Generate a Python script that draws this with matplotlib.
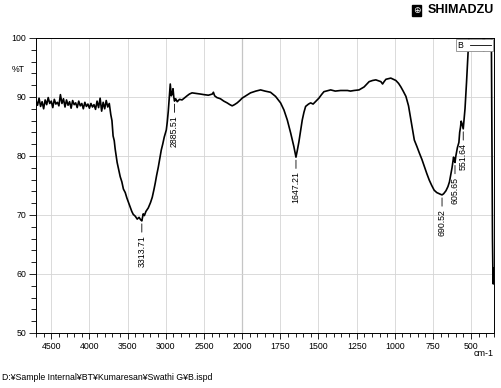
import numpy as np
import matplotlib.pyplot as plt
from matplotlib.lines import Line2D

plt.rcParams['font.family'] = ['Liberation Sans', 'DejaVu Sans']

# spectrum (cm-1, %T)
wavenumber = [
    4700, 4680, 4660, 4640, 4620, 4600, 4580, 4560, 4540, 4520,
    4500, 4480, 4460, 4440, 4420, 4400, 4380, 4360, 4340, 4320,
    4300, 4280, 4260, 4240, 4220, 4200, 4180, 4160, 4140, 4120,
    4100, 4080, 4060, 4040, 4020, 4000, 3980, 3960, 3940, 3920,
    3900, 3880, 3860, 3840, 3820, 3800, 3780, 3760, 3740,
    3720, 3705, 3690, 3675, 3663, 3650, 3637, 3620, 3597, 3575,
    3555, 3531, 3510, 3490, 3466, 3445, 3426, 3400, 3374, 3350,
    3330, 3313.71, 3295, 3280, 3260, 3229, 3200, 3177, 3155, 3138,
    3120, 3098, 3080, 3059, 3040, 3020, 2993, 2980, 2967, 2955,
    2941, 2928, 2915, 2905, 2895, 2885.51, 2870, 2850, 2820, 2787,
    2750, 2721, 2690, 2656, 2600, 2547, 2500, 2442, 2390, 2376,
    2360, 2330, 2284, 2240, 2196, 2160, 2130, 2100, 2065, 2030,
    2000, 1970, 1945, 1910, 1879, 1850, 1814, 1781, 1748, 1726,
    1704, 1682, 1661, 1647.21, 1638, 1628, 1606, 1595, 1584, 1565,
    1551, 1535, 1520, 1497, 1480, 1464, 1420, 1390, 1355, 1310,
    1290, 1267, 1234, 1201, 1168, 1145, 1124, 1091, 1080, 1070,
    1058, 1026, 993, 975, 960, 945, 927, 910, 894, 880,
    872, 855, 839, 822, 806, 790, 774, 758, 742, 725,
    709, 700, 690.52, 680, 665, 652, 642, 632, 625, 615,
    610, 605.65, 600, 590, 580, 575, 570, 565, 560, 551.64,
    545, 540, 530, 520, 510, 500, 480, 450, 430, 422,
    417, 412, 405, 380, 368, 364, 360, 357, 355, 353,
    351, 350,
]
transmittance = [
    89.4, 88.6, 89.8, 88.4, 89.2, 88.0, 89.5, 88.7, 89.9, 88.9,
    89.3, 88.2, 89.6, 88.8, 89.1, 88.5, 90.4, 88.9, 89.7, 88.3,
    89.5, 88.6, 89.2, 88.1, 89.4, 88.7, 89.0, 88.2, 89.3, 88.5,
    88.9, 88.0, 89.1, 88.4, 88.8, 88.1, 88.9, 88.3, 88.7, 87.9,
    89.3, 88.2, 89.8, 87.6, 89.1, 88.0, 89.4, 88.3, 88.9,
    87.0, 86.0, 83.4, 82.6, 81.2, 80.1, 78.9, 77.9, 76.5, 75.6,
    74.4, 73.8, 72.9, 72.2, 71.4, 70.6, 70.1, 69.8, 69.3, 69.6,
    69.2, 69.0, 70.2, 69.9, 70.6, 71.2, 72.1, 73.0, 74.3, 75.4,
    76.7, 78.1, 79.4, 81.0, 82.0, 83.2, 84.4, 85.8, 87.6, 89.8,
    92.2, 90.2, 90.6, 91.4, 90.0, 89.3, 89.7, 89.2, 89.6, 89.5,
    89.9, 90.2, 90.5, 90.7, 90.6, 90.5, 90.4, 90.3, 90.5, 90.8,
    90.2, 89.9, 89.7, 89.3, 89.0, 88.7, 88.5, 88.7, 89.0, 89.4,
    89.8, 90.3, 90.7, 91.0, 91.2, 91.0, 90.8, 90.1, 89.0, 87.8,
    86.1, 83.9, 81.6, 79.8, 81.0, 82.4, 86.1, 87.4, 88.4, 88.8,
    89.0, 88.8, 89.2, 89.8, 90.4, 90.9, 91.2, 91.0, 91.1, 91.1,
    91.0, 91.1, 91.2, 91.7, 92.6, 92.8, 92.9, 92.6, 92.2, 92.6,
    93.0, 93.2, 92.8, 92.3, 91.7, 91.0, 90.1, 88.5, 86.1, 84.0,
    82.7, 81.6, 80.5, 79.4, 78.2, 77.0, 75.9, 75.0, 74.2, 73.8,
    73.6, 73.5, 73.4, 73.6, 74.1, 74.8, 75.6, 77.0, 78.0, 79.8,
    79.2, 78.9, 80.0, 81.4, 82.3, 84.0, 84.8, 85.9, 85.5, 84.6,
    86.5, 88.0, 92.5, 97.5, 102.0, 104.0, 104.0, 104.0, 104.0, 100.5,
    97.8, 100.5, 104.0, 104.0, 103.0, 85.0, 66.0, 59.5, 58.3, 61.0,
    59.0, 60.0,
]

peak_positions = [3313.71, 2885.51, 1647.21, 690.52, 605.65, 551.64]
peak_labels = ['3313.71', '2885.51', '1647.21', '690.52', '605.65', '551.64']

x_major = [4500, 4000, 3500, 3000, 2500, 2000, 1750, 1500, 1250, 1000, 750, 500]
y_major = [50, 60, 70, 80, 90, 100]


# Shimadzu style axis: 4700-2000 drawn at half the scale of 2000-350
def forward(w):
    w = np.asarray(w, dtype=float)
    return np.where(w <= 2000, w, 2000 + (w - 2000) / 2)


def inverse(t):
    t = np.asarray(t, dtype=float)
    return np.where(t <= 2000, t, 2000 + (t - 2000) * 2)


def plot_spectrum() -> None:
    fig = plt.figure(figsize=(5.02, 3.88), dpi=100)
    ax = fig.add_axes([0.0717, 0.1418, 0.9124, 0.7603])

    ax.set_xscale('function', functions=(forward, inverse))
    ax.set_xlim(4700, 350)
    ax.set_ylim(50, 100)

    x_minor = [w for w in range(4700, 2000, -100) if w % 500] + \
              [w for w in range(1950, 349, -50) if w % 250]
    ax.set_xticks(x_major)
    ax.set_xticklabels([str(w) for w in x_major])
    ax.set_xticks(x_minor, minor=True)
    ax.set_yticks(y_major)
    ax.set_yticks(np.arange(50, 101, 2), minor=True)

    ax.tick_params(which='major', length=4.5, width=0.6, labelsize=6.3, pad=2)
    ax.tick_params(which='minor', length=2.8, width=0.6)
    ax.tick_params(axis='y', which='major', length=5)
    ax.tick_params(axis='y', which='minor', length=3.5)
    ax.grid(True, which='major', color='#d4d4d4', lw=0.6)
    ax.axvline(2000, color='#7a7a7a', lw=0.8, zorder=1)
    for s in ax.spines.values():
        s.set_linewidth(0.7)

    ax.plot(wavenumber, transmittance, color='black', lw=1.2, zorder=3)

    wn_inc = wavenumber[::-1]
    tr_inc = transmittance[::-1]
    for pos, lab in zip(peak_positions, peak_labels):
        val = np.interp(pos, wn_inc, tr_inc)
        ax.annotate(lab, xy=(pos, val - 0.5), xytext=(0, -8),
                    textcoords='offset points', rotation=90,
                    ha='center', va='top', fontsize=6.3,
                    arrowprops=dict(arrowstyle='-', lw=0.6, color='black',
                                    shrinkA=0, shrinkB=0))

    handle = Line2D([], [], color='black', lw=0.6)
    leg = ax.legend([handle], ['B'], loc='upper right', fontsize=6.3,
                    handlelength=2.4, markerfirst=False, fancybox=False,
                    edgecolor='#8a8a8a', framealpha=1, borderpad=0.15,
                    borderaxespad=0.15, handletextpad=0.8)
    leg.get_frame().set_linewidth(0.6)

    fig.text(0.024, 0.82, '%T', fontsize=6.3, va='center')
    fig.text(0.984, 0.090, 'cm-1', fontsize=6.5, ha='right', va='center')
    fig.text(0.004, 0.026, 'D:¥Sample Internal¥BT¥Kumaresan¥Swathi G¥B.ispd',
             fontsize=6.3, va='center')
    fig.text(0.852, 0.974, 'SHIMADZU', fontsize=9, fontweight='bold',
             ha='left', va='center')
    fig.text(0.83, 0.974, '⊕', fontsize=6.5, color='white', ha='center',
             va='center', family=['DejaVu Sans'],
             bbox=dict(boxstyle='square,pad=0.12', fc='black', ec='black'))

    fig.savefig('out.png', dpi=100)


if __name__ == '__main__':
    plot_spectrum()
